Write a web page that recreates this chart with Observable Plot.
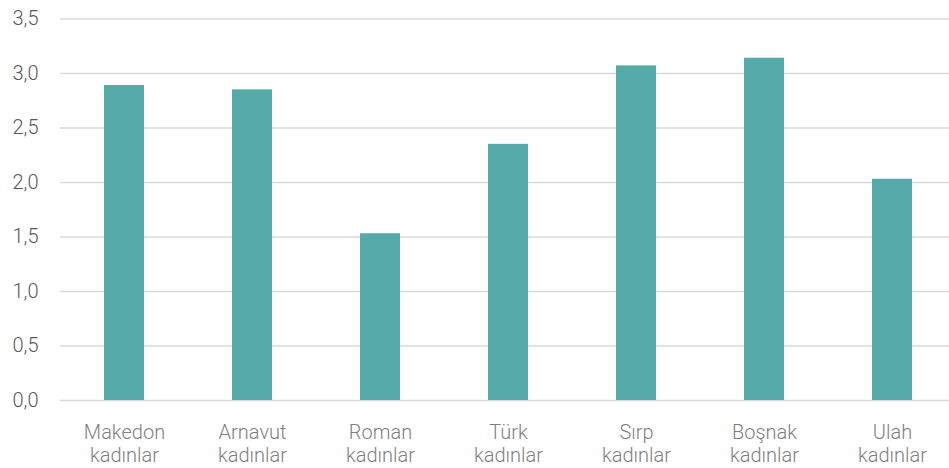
<!DOCTYPE html>
<html>
<head>
<meta charset="utf-8">
<script src="https://cdn.jsdelivr.net/npm/d3@7"></script>
<script src="https://cdn.jsdelivr.net/npm/@observablehq/plot@0.6"></script>
<style>
  html, body { margin: 0; padding: 0; background: #fff; }
  #chart svg { display: block; }
</style>
</head>
<body>
<div id="chart"></div>
<script>
const groups = ["Makedon", "Arnavut", "Roman", "Türk", "Sırp", "Boşnak", "Ulah"];
const suffix = "kadınlar";
const values = [2.89, 2.85, 1.53, 2.35, 3.07, 3.14, 2.03];
const yTicks = [0, 0.5, 1.0, 1.5, 2.0, 2.5, 3.0, 3.5];

const data = groups.map((g, i) => ({ label: g + "\n" + suffix, value: values[i] }));
const fmt = d => d.toFixed(1).replace(".", ",");

const chart = Plot.plot({
  width: 949,
  height: 468,
  marginLeft: 60,
  marginRight: -7,
  marginTop: 18.5,
  marginBottom: 68,
  style: { fontFamily: "Roboto, sans-serif", color: "#595959", background: "#fff" },
  x: { domain: data.map(d => d.label), paddingInner: 0.6875, paddingOuter: 0.34375, label: null },
  y: { domain: [0, 3.5], label: null },
  marks: [
    Plot.ruleY(yTicks, { stroke: "#d9d9d9", strokeWidth: 1.5 }),
    Plot.barY(data, { x: "label", y: "value", fill: "#56a9a9" }),
    Plot.axisY(yTicks, { tickSize: 0, tickPadding: 22, fontSize: 20, fontWeight: 300, tickFormat: fmt, label: null, fill: "#595959" }),
    Plot.axisX({ tickSize: 0, tickPadding: 22, fontSize: 20, fontWeight: 300, lineHeight: 1.15, label: null, fill: "#7f7f7f" })
  ]
});
document.getElementById("chart").appendChild(chart);
</script>
</body>
</html>
